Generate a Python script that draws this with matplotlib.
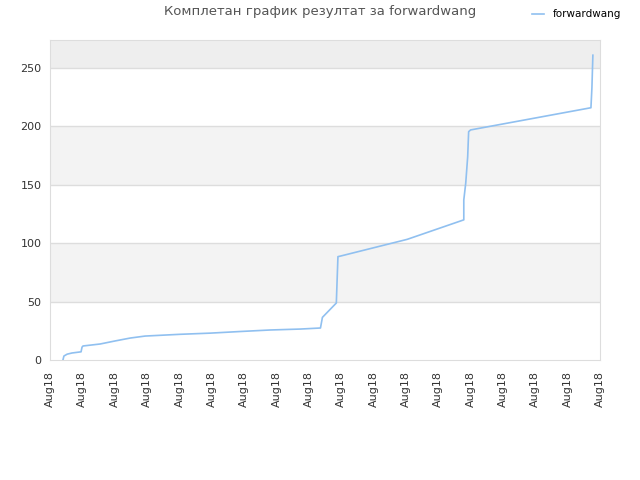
import matplotlib.pyplot as plt
import numpy as np

# Data (x in tick units, 0..17)
x_pos = [0.40, 0.43, 0.53, 0.68, 0.96, 0.99, 1.02, 1.55, 2.01, 2.48, 2.94, 4.02,
         4.95, 5.88, 6.81, 7.74, 8.36, 8.42, 8.85, 8.90, 8.98, 11.04, 12.79,
         12.79, 12.85, 12.91, 12.94, 13.00, 16.72, 16.75, 16.78]
values = [0, 3.4, 5, 6, 7, 11, 12, 13.7, 16.3, 18.8, 20.5, 22,
          23, 24.4, 25.7, 26.5, 27.4, 36.5, 48.8, 88.5, 89, 103.3, 120,
          137, 151.5, 174, 195.5, 197, 216, 233, 261]
tick_labels = ['Aug18'] * 18
series_name = 'forwardwang'
title = 'Комплетан график резултат за forwardwang'

fig = plt.figure(figsize=(6.4, 4.8), dpi=100)
ax = fig.add_axes([50 / 640, 120 / 480, 550 / 640, 320 / 480])

ymax = 274
# alternating horizontal bands
bands = [(0, 50, '#ffffff'), (50, 100, '#f3f3f3'), (100, 150, '#ffffff'),
         (150, 200, '#f3f3f3'), (200, 250, '#ffffff'), (250, ymax, '#eeeeee')]
for lo, hi, c in bands:
    ax.axhspan(lo, hi, color=c, zorder=0, lw=0)
for yv in range(50, 300, 50):
    ax.axhline(yv, color='#dddddd', lw=1, zorder=1)

ax.plot(x_pos, values, color='#90c0f0', lw=1.2, label=series_name, zorder=3)

ax.set_xlim(0, 17)
ax.set_ylim(0, ymax)
ax.set_xticks(np.arange(18))
ax.set_xticklabels(tick_labels, rotation=90, fontsize=8, color='#333333')
ax.set_yticks(range(0, 300, 50))
ax.tick_params(axis='y', labelsize=8, colors='#333333', length=0, pad=6)
ax.tick_params(axis='x', length=0, pad=8)
for s in ax.spines.values():
    s.set_color('#dddddd')

fig.text(320 / 640, 1 - 12 / 480, title, ha='center', va='center',
         fontsize=9.5, color='#555555')
fig.legend(loc='upper right', bbox_to_anchor=(0.985, 1.0), frameon=False,
           fontsize=7.5, handlelength=1.2)

fig.savefig('out.png', dpi=100)
